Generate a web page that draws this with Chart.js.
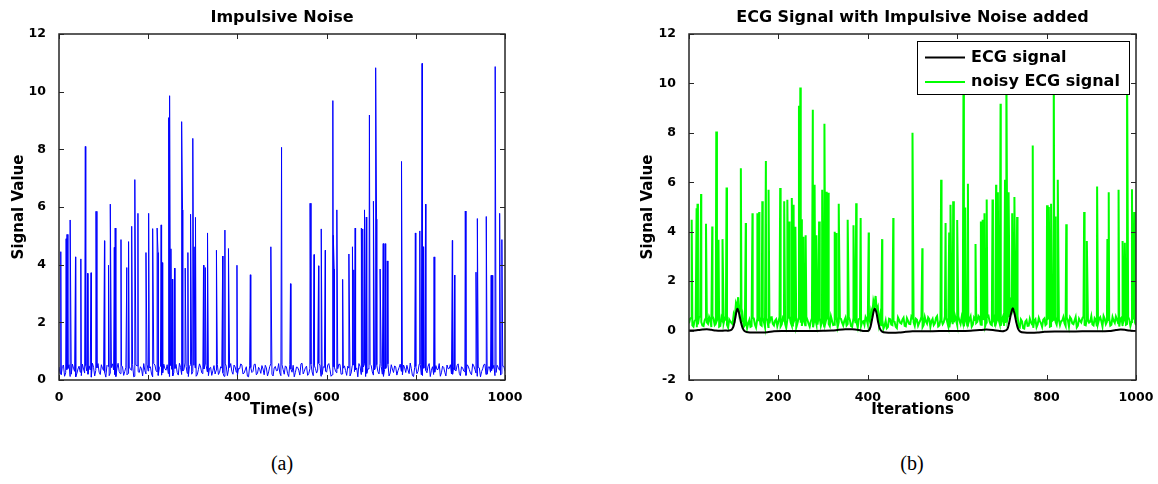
<!DOCTYPE html>
<html>
<head>
<meta charset="utf-8">
<script src="https://cdn.jsdelivr.net/npm/chart.js@4/dist/chart.umd.min.js"></script>
<style>
  html, body { margin: 0; padding: 0; background: #fff; }
  body { width: 1158px; height: 484px; position: relative; overflow: hidden; }
  canvas { position: absolute; top: 0; }
  #chart-noise { left: 0; }
  #chart-ecg { left: 579px; }
  .caption {
    position: absolute; top: 452px; width: 60px; text-align: center;
    font: 20px "Liberation Serif", "Times New Roman", serif; color: #000;
  }
</style>
</head>
<body>
<canvas id="chart-noise" width="579" height="430"></canvas>
<canvas id="chart-ecg" width="579" height="430"></canvas>
<div class="caption" style="left:252px">(a)</div>
<div class="caption" style="left:882px">(b)</div>
<script>
/*  DATA  */
// impulsive noise: baseline read every 5 iterations (x = 0, 5, ...)
// and in between (x = 2.5, 7.5, ...), plus spikes [x, value]
const noiseStep = 5;
const noiseBase = [
  0.45, 0.18, 0.52, 0.25, 0.40, 0.12, 0.55, 0.30, 0.22, 0.48,
  0.15, 0.38, 0.50, 0.20, 0.35, 0.58, 0.14, 0.42, 0.27, 0.53,
  0.33, 0.10, 0.47, 0.24, 0.56, 0.19, 0.41, 0.29, 0.51, 0.16,
  0.44, 0.23, 0.37, 0.54, 0.13, 0.49, 0.26, 0.39, 0.57, 0.21,
  0.31, 0.46, 0.11, 0.52, 0.28, 0.43, 0.17, 0.55, 0.34, 0.22,
  0.50, 0.14, 0.40, 0.26, 0.58, 0.19, 0.36, 0.47, 0.12, 0.53,
  0.29, 0.42, 0.18, 0.56, 0.25, 0.38, 0.49, 0.15, 0.44, 0.32,
  0.21, 0.54, 0.27, 0.41, 0.13, 0.48, 0.35, 0.57, 0.20, 0.45,
  0.16, 0.39, 0.52, 0.24, 0.46, 0.11, 0.43, 0.30, 0.55, 0.23,
  0.37, 0.50, 0.18, 0.42, 0.28, 0.56, 0.14, 0.47, 0.33, 0.25,
  0.53, 0.20, 0.45, 0.12, 0.38, 0.51, 0.26, 0.44, 0.17, 0.58,
  0.30, 0.48, 0.22, 0.55, 0.15, 0.40, 0.34, 0.52, 0.19, 0.43,
  0.27, 0.57, 0.13, 0.46, 0.31, 0.39, 0.54, 0.21, 0.49, 0.16,
  0.41, 0.24, 0.52, 0.35, 0.11, 0.47, 0.28, 0.56, 0.23, 0.38,
  0.50, 0.17, 0.44, 0.29, 0.58, 0.20, 0.36, 0.48, 0.14, 0.53,
  0.26, 0.45, 0.32, 0.55, 0.18, 0.42, 0.51, 0.22, 0.39, 0.12,
  0.47, 0.30, 0.54, 0.16, 0.43, 0.25, 0.57, 0.34, 0.19, 0.50,
  0.37, 0.13, 0.48, 0.27, 0.52, 0.40, 0.21, 0.45, 0.31, 0.56,
  0.15, 0.42, 0.28, 0.53, 0.36, 0.18, 0.49, 0.24, 0.44, 0.11,
  0.39, 0.55, 0.20, 0.46, 0.33, 0.51, 0.26, 0.43, 0.17, 0.48,
  0.30,
];
const noiseBaseHalf = [
  0.22, 0.47, 0.13, 0.36, 0.53, 0.20, 0.41, 0.11, 0.38, 0.27,
  0.55, 0.24, 0.31, 0.49, 0.10, 0.44, 0.33, 0.57, 0.19, 0.40,
  0.26, 0.51, 0.15, 0.43, 0.35, 0.12, 0.58, 0.22, 0.45, 0.30,
  0.18, 0.48, 0.34, 0.11, 0.52, 0.29, 0.46, 0.14, 0.32, 0.55,
  0.42, 0.21, 0.57, 0.33, 0.16, 0.48, 0.25, 0.39, 0.53, 0.12,
  0.37, 0.26, 0.54, 0.17, 0.44, 0.31, 0.59, 0.23, 0.47, 0.20,
  0.51, 0.13, 0.36, 0.45, 0.22, 0.55, 0.28, 0.41, 0.16, 0.50,
  0.34, 0.19, 0.46, 0.25, 0.58, 0.15, 0.43, 0.30, 0.52, 0.27,
  0.40, 0.56, 0.21, 0.35, 0.13, 0.49, 0.26, 0.54, 0.18, 0.44,
  0.23, 0.38, 0.51, 0.14, 0.47, 0.20, 0.42, 0.32, 0.57, 0.15,
  0.36, 0.49, 0.22, 0.53, 0.27, 0.11, 0.45, 0.34, 0.56, 0.21,
  0.43, 0.16, 0.39, 0.28, 0.50, 0.24, 0.58, 0.13, 0.46, 0.31,
  0.52, 0.37, 0.18, 0.44, 0.25, 0.55, 0.20, 0.41, 0.33, 0.48,
  0.14, 0.50, 0.29, 0.42, 0.57, 0.19, 0.45, 0.12, 0.39, 0.54,
  0.28, 0.35, 0.53, 0.21, 0.47, 0.13, 0.40, 0.56, 0.24, 0.38,
  0.49, 0.17, 0.43, 0.30, 0.52, 0.26, 0.35, 0.59, 0.15, 0.44,
  0.22, 0.55, 0.18, 0.41, 0.33, 0.48, 0.12, 0.46, 0.27, 0.36,
  0.57, 0.25, 0.44, 0.14, 0.39, 0.53, 0.20, 0.35, 0.50, 0.23,
  0.46, 0.31, 0.16, 0.48, 0.24, 0.56, 0.37, 0.13, 0.42, 0.29,
  0.53, 0.19, 0.45, 0.27, 0.40, 0.15, 0.51, 0.34, 0.22, 0.47,
];
const noiseSpikes = [
  [4, 4.45], [16, 4.9], [18, 5.05], [25, 5.55], [37, 4.27], [49, 4.2],
  [59, 8.1], [64, 3.7], [72, 3.72], [83, 5.85], [102, 4.83], [111, 3.98],
  [115, 6.1], [124, 4.6], [126, 5.27], [139, 4.87], [152, 3.9], [156, 4.8],
  [163, 5.33], [170, 6.95], [177, 5.78], [195, 4.42], [201, 5.78], [210, 5.25],
  [220, 5.27], [222, 4.42], [229, 5.38], [232, 4.07], [246, 9.1], [248, 9.86],
  [251, 4.55], [254, 3.5], [259, 3.88], [275, 8.96], [277, 5.9], [283, 3.88],
  [289, 4.42], [295, 5.75], [300, 8.38], [303, 4.62], [306, 5.64], [324, 3.98],
  [328, 3.9], [333, 5.1], [353, 4.5], [367, 4.3], [372, 5.2], [380, 4.56],
  [399, 3.98], [429, 3.65], [475, 4.62], [499, 8.07], [519, 3.34], [563, 6.13],
  [572, 4.35], [582, 3.96], [588, 5.24], [597, 4.5], [614, 9.69], [615, 5.02],
  [617, 3.85], [623, 5.9], [636, 3.49], [650, 4.37], [658, 4.62], [661, 3.82],
  [664, 5.27], [678, 5.27], [681, 5.24], [685, 5.9], [689, 5.65], [696, 9.19],
  [705, 6.2], [710, 10.83], [712, 5.58], [720, 3.85], [727, 4.73], [731, 4.73],
  [736, 4.13], [768, 7.58], [799, 5.1], [809, 5.17], [814, 10.98], [817, 4.62],
  [822, 6.1], [841, 4.27], [882, 4.84], [887, 3.64], [911, 5.86], [935, 3.74],
  [938, 5.6], [958, 5.67], [969, 3.63], [971, 3.63], [978, 10.87], [988, 5.78],
  [993, 4.87],
];

// clean ECG signal [x, value]
const ecgPoints = [
  [0, 0.0], [10, 0.0], [20, 0.02], [30, 0.04], [40, 0.05], [50, 0.03], [60, 0.0],
  [70, -0.01], [80, 0.0], [90, 0.0], [96, 0.05], [100, 0.2], [104, 0.55],
  [108, 0.88], [112, 0.7], [116, 0.35], [120, 0.1], [125, -0.03], [132, -0.07],
  [145, -0.08], [160, -0.08], [175, -0.07], [190, -0.03], [210, -0.02],
  [240, -0.02], [270, -0.02], [300, -0.01], [320, 0.0], [335, 0.03], [350, 0.05],
  [365, 0.05], [380, 0.02], [392, -0.02], [402, 0.0], [406, 0.15], [410, 0.5],
  [415, 0.88], [419, 0.75], [423, 0.35], [427, 0.08], [432, -0.04], [440, -0.08],
  [455, -0.09], [470, -0.08], [485, -0.05], [500, -0.03], [530, -0.03],
  [560, -0.02], [600, -0.02], [630, -0.01], [650, 0.02], [665, 0.04], [680, 0.02],
  [695, -0.02], [705, -0.02], [712, 0.05], [716, 0.3], [720, 0.65], [724, 0.9],
  [728, 0.7], [732, 0.35], [736, 0.08], [741, -0.04], [750, -0.08], [765, -0.09],
  [780, -0.08], [795, -0.05], [820, -0.04], [850, -0.04], [880, -0.03],
  [910, -0.03], [940, -0.02], [955, 0.02], [965, 0.04], [975, 0.03], [985, 0.0],
  [1000, -0.02],
];

// noisy ECG: baseline read every 5 iterations and in between, plus spikes
const noisyBase = [
  0.30, 0.52, 0.16, 0.44, 0.25, 0.57, 0.20, 0.41, 0.33, 0.55,
  0.14, 0.47, 0.28, 0.53, 0.19, 0.40, 0.50, 0.23, 0.45, 0.31,
  0.65, 1.10, 1.35, 1.00, 0.60, 0.22, 0.10, 0.43, 0.18, 0.49,
  0.12, 0.38, 0.24, 0.52, 0.15, 0.41, 0.29, 0.54, 0.21, 0.46,
  0.35, 0.17, 0.51, 0.27, 0.44, 0.58, 0.20, 0.39, 0.13, 0.48,
  0.32, 0.55, 0.22, 0.43, 0.16, 0.50, 0.37, 0.26, 0.57, 0.19,
  0.45, 0.30, 0.53, 0.18, 0.40, 0.24, 0.56, 0.34, 0.47, 0.21,
  0.52, 0.27, 0.42, 0.15, 0.58, 0.31, 0.46, 0.20, 0.38, 0.55,
  0.25, 0.35, 0.62, 1.00, 0.82, 0.30, 0.18, 0.08, 0.40, 0.14,
  0.46, 0.22, 0.35, 0.10, 0.43, 0.28, 0.52, 0.17, 0.39, 0.26,
  0.50, 0.19, 0.44, 0.31, 0.56, 0.23, 0.37, 0.53, 0.15, 0.47,
  0.29, 0.58, 0.21, 0.42, 0.34, 0.51, 0.18, 0.45, 0.26, 0.60,
  0.22, 0.40, 0.55, 0.17, 0.48, 0.30, 0.57, 0.24, 0.43, 0.36,
  0.53, 0.20, 0.46, 0.33, 0.59, 0.25, 0.41, 0.16, 0.50, 0.28,
  0.44, 0.19, 0.55, 0.70, 1.15, 1.42, 1.00, 0.60, 0.12, 0.37,
  0.08, 0.42, 0.20, 0.33, 0.11, 0.46, 0.25, 0.38, 0.15, 0.49,
  0.27, 0.52, 0.18, 0.44, 0.35, 0.56, 0.22, 0.41, 0.30, 0.53,
  0.16, 0.47, 0.26, 0.55, 0.20, 0.39, 0.50, 0.23, 0.45, 0.32,
  0.58, 0.21, 0.43, 0.28, 0.54, 0.17, 0.48, 0.36, 0.51, 0.24,
  0.40, 0.57, 0.30, 0.46, 0.19, 0.53, 0.27, 0.44, 0.35, 0.50,
  0.22,
];
const noisyBaseHalf = [
  0.48, 0.21, 0.39, 0.13, 0.55, 0.34, 0.18, 0.50, 0.27, 0.43,
  0.58, 0.22, 0.41, 0.16, 0.53, 0.30, 0.45, 0.12, 0.37, 0.26,
  0.50, 0.95, 0.75, 0.35, 0.15, 0.46, 0.29, 0.15, 0.52, 0.24,
  0.44, 0.57, 0.20, 0.36, 0.49, 0.14, 0.53, 0.27, 0.40, 0.18,
  0.55, 0.25, 0.42, 0.11, 0.48, 0.33, 0.16, 0.52, 0.29, 0.45,
  0.19, 0.41, 0.56, 0.28, 0.37, 0.13, 0.47, 0.24, 0.51, 0.35,
  0.16, 0.49, 0.27, 0.58, 0.22, 0.43, 0.14, 0.50, 0.32, 0.40,
  0.21, 0.54, 0.18, 0.46, 0.30, 0.12, 0.49, 0.36, 0.23, 0.45,
  0.52, 0.80, 1.20, 1.40, 0.95, 0.60, 0.42, 0.20, 0.09, 0.48,
  0.24, 0.38, 0.15, 0.53, 0.31, 0.44, 0.19, 0.50, 0.27, 0.57,
  0.33, 0.48, 0.20, 0.41, 0.14, 0.55, 0.28, 0.46, 0.38, 0.22,
  0.51, 0.17, 0.44, 0.26, 0.57, 0.36, 0.13, 0.49, 0.33, 0.42,
  0.58, 0.27, 0.35, 0.50, 0.21, 0.44, 0.16, 0.52, 0.31, 0.59,
  0.25, 0.47, 0.18, 0.55, 0.37, 0.22, 0.53, 0.34, 0.45, 0.19,
  0.57, 0.31, 0.48, 0.55, 0.95, 0.85, 0.45, 0.15, 0.45, 0.10,
  0.36, 0.19, 0.48, 0.25, 0.40, 0.14, 0.51, 0.29, 0.44, 0.22,
  0.47, 0.16, 0.39, 0.58, 0.24, 0.45, 0.37, 0.55, 0.19, 0.42,
  0.54, 0.29, 0.41, 0.13, 0.48, 0.33, 0.57, 0.21, 0.44, 0.36,
  0.25, 0.50, 0.17, 0.46, 0.38, 0.59, 0.26, 0.43, 0.20, 0.55,
  0.31, 0.45, 0.16, 0.52, 0.39, 0.24, 0.56, 0.18, 0.47, 0.33,
];
const noisySpikes = [
  [6, 4.48], [17, 4.95], [19, 5.13], [27, 5.53], [38, 4.32], [52, 4.21],
  [61, 8.05], [66, 3.67], [75, 3.7], [84, 5.79], [116, 6.57], [127, 4.35],
  [142, 4.75], [153, 4.75], [157, 4.8], [164, 5.23], [172, 6.86], [178, 5.7],
  [204, 5.77], [213, 5.23], [220, 5.29], [224, 4.41], [230, 5.36], [234, 5.09],
  [238, 4.2], [246, 9.1], [249, 9.84], [252, 4.5], [256, 3.8], [261, 3.86],
  [277, 8.93], [281, 5.9], [285, 3.86], [291, 4.41], [298, 5.7], [303, 8.37],
  [308, 5.62], [311, 5.58], [326, 4.0], [329, 3.95], [335, 5.13], [355, 4.48],
  [368, 4.26], [374, 5.15], [384, 4.55], [402, 3.97], [432, 3.7], [457, 4.55],
  [500, 8.0], [522, 3.33], [564, 6.1], [574, 4.35], [582, 3.97], [585, 5.09],
  [591, 5.23], [600, 4.47], [614, 9.7], [618, 4.98], [624, 5.94], [641, 3.5],
  [653, 4.41], [657, 4.48], [661, 4.75], [666, 5.3], [679, 5.3], [687, 5.9],
  [691, 5.6], [697, 9.18], [707, 6.1], [710, 10.8], [715, 5.6], [723, 4.75],
  [728, 5.4], [734, 4.6], [769, 7.49], [801, 5.07], [805, 5.0], [810, 5.13],
  [816, 10.9], [819, 4.62], [825, 6.1], [844, 4.3], [884, 4.8], [890, 3.62],
  [913, 5.83], [936, 3.7], [939, 5.6], [961, 5.7], [970, 3.62], [975, 3.55],
  [980, 10.8], [991, 5.72], [996, 4.8],
];

const xTicks = { min: 0, max: 1000, step: 200 };
/*  END DATA  */

Chart.defaults.font.family = "'DejaVu Sans', 'Liberation Sans', sans-serif";
Chart.defaults.font.weight = "bold";
Chart.defaults.color = "#000";

// базовая линия (целые и половинные шаги) + импульсы -> точки {x, y} по x
function mergeSeries(base, baseHalf, step, spikes) {
  const pts = base.map((v, i) => ({ x: i * step, y: v }));
  baseHalf.forEach((v, i) => pts.push({ x: (i + 0.5) * step, y: v }));
  spikes.forEach(([x, y]) => pts.push({ x, y }));
  return pts.sort((a, b) => a.x - b.x);
}

// рамка в стиле MATLAB: бокс, внутренние засечки, заголовок, подписи осей
const matlabFrame = {
  id: "matlabFrame",
  afterDraw(chart, args, opts) {
    const { ctx, chartArea: { left, right, top, bottom }, scales: { x, y } } = chart;
    ctx.save();
    ctx.strokeStyle = "#262626";
    ctx.lineWidth = 1;
    ctx.beginPath();
    x.ticks.forEach((t) => {
      const px = Math.round(x.getPixelForValue(t.value)) + 0.5;
      ctx.moveTo(px, bottom); ctx.lineTo(px, bottom - 5);
      ctx.moveTo(px, top); ctx.lineTo(px, top + 5);
    });
    y.ticks.forEach((t) => {
      const py = Math.round(y.getPixelForValue(t.value)) + 0.5;
      ctx.moveTo(left, py); ctx.lineTo(left + 5, py);
      ctx.moveTo(right, py); ctx.lineTo(right - 5, py);
    });
    ctx.stroke();
    ctx.lineWidth = 1.5;
    ctx.strokeRect(left, top, right - left, bottom - top);

    ctx.fillStyle = "#000";
    ctx.textAlign = "center";
    ctx.textBaseline = "alphabetic";
    ctx.font = "bold 16px 'DejaVu Sans'";
    ctx.fillText(opts.title, (left + right) / 2, 22);
    ctx.font = "bold 15px 'DejaVu Sans'";
    ctx.fillText(opts.xLabel, (left + right) / 2, 414);
    ctx.translate(opts.yLabelX, (top + bottom) / 2);
    ctx.rotate(-Math.PI / 2);
    ctx.textBaseline = "middle";
    ctx.fillText(opts.yLabel, 0, 0);
    ctx.restore();
  },
};

// легенда в правом верхнем углу с белым фоном
const boxLegend = {
  id: "boxLegend",
  afterDatasetsDraw(chart) {
    const { ctx, chartArea: { right, top } } = chart;
    const w = 212, h = 53;
    const bx = right - 7 - w, by = top + 7;
    ctx.save();
    ctx.fillStyle = "#fff";
    ctx.fillRect(bx, by, w, h);
    ctx.strokeStyle = "#000";
    ctx.lineWidth = 1;
    ctx.strokeRect(bx + 0.5, by + 0.5, w, h);
    ctx.font = "bold 16px 'DejaVu Sans'";
    ctx.textBaseline = "middle";
    ctx.textAlign = "left";
    chart.data.datasets.forEach((ds, i) => {
      const cy = by + 16.5 + i * 24.5;
      ctx.strokeStyle = ds.borderColor;
      ctx.lineWidth = 2;
      ctx.beginPath();
      ctx.moveTo(bx + 8, cy);
      ctx.lineTo(bx + 48, cy);
      ctx.stroke();
      ctx.fillStyle = "#000";
      ctx.fillText(ds.label, bx + 54, cy);
    });
    ctx.restore();
  },
};

function makeOptions(pad, yMin, yMax, labels) {
  return {
    responsive: false,
    animation: false,
    events: [],
    layout: { padding: pad },
    plugins: {
      legend: { display: false },
      tooltip: { enabled: false },
      matlabFrame: labels,
    },
    elements: { point: { radius: 0 }, line: { tension: 0 } },
    scales: {
      x: {
        type: "linear",
        min: xTicks.min,
        max: xTicks.max,
        grid: { display: false },
        border: { display: false },
        ticks: {
          stepSize: xTicks.step,
          autoSkip: false,
          maxRotation: 0,
          padding: 2,
          font: { size: 12.5 },
          callback: (v) => String(v),
        },
        afterFit: (s) => { s.height = 50; },
      },
      y: {
        min: yMin,
        max: yMax,
        grid: { display: false },
        border: { display: false },
        ticks: { stepSize: 2, padding: 5, font: { size: 12.5 } },
        afterFit: (s) => { s.width = 40; },
      },
    },
  };
}

new Chart(document.getElementById("chart-noise"), {
  type: "line",
  data: {
    datasets: [
      {
        label: "Impulsive Noise",
        data: mergeSeries(noiseBase, noiseBaseHalf, noiseStep, noiseSpikes),
        borderColor: "#0000ff",
        borderWidth: 1,
      },
    ],
  },
  options: makeOptions({ left: 19, right: 74, top: 34, bottom: 0 }, 0, 12, {
    title: "Impulsive Noise",
    xLabel: "Time(s)",
    yLabel: "Signal Value",
    yLabelX: 19,
  }),
  plugins: [matlabFrame],
});

new Chart(document.getElementById("chart-ecg"), {
  type: "line",
  data: {
    datasets: [
      {
        label: "ECG signal",
        data: ecgPoints.map(([x, y]) => ({ x, y })),
        borderColor: "#000000",
        borderWidth: 2,
        tension: 0.3,
      },
      {
        label: "noisy ECG signal",
        data: mergeSeries(noisyBase, noisyBaseHalf, noiseStep, noisySpikes),
        borderColor: "#00ff00",
        borderWidth: 2,
      },
    ],
  },
  options: makeOptions({ left: 70, right: 22, top: 34, bottom: 0 }, -2, 12, {
    title: "ECG Signal with Impulsive Noise added",
    xLabel: "Iterations",
    yLabel: "Signal Value",
    yLabelX: 69,
  }),
  plugins: [boxLegend, matlabFrame],
});
</script>
</body>
</html>
